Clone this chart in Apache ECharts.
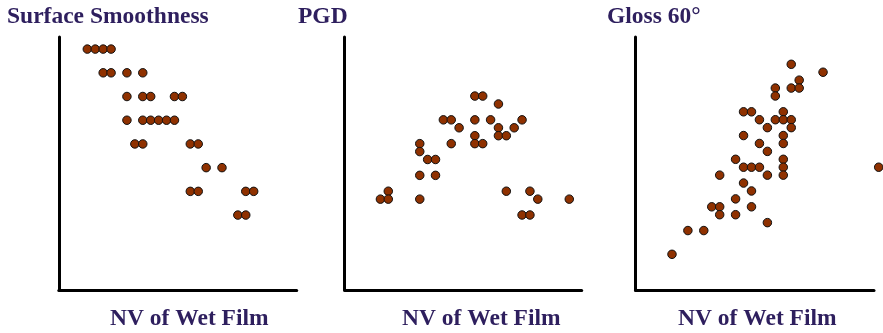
<!DOCTYPE html>
<html>
<head>
<meta charset="utf-8">
<script src="https://cdn.jsdelivr.net/npm/echarts@6/dist/echarts.min.js"></script>
<style>
    html, body { margin: 0; padding: 0; background: #fff; }
    #main { width: 883px; height: 333px; }
</style>
</head>
<body>
<div id="main"></div>
<script>
// Surface Smoothness
var smoothX = [3, 4, 5, 6, 5, 6, 8, 10, 8, 10, 11, 14, 15, 8, 10, 11, 12, 13, 14, 9, 10, 16, 17, 18, 20, 16, 17, 23, 24, 22, 23];
var smoothY = [10, 10, 10, 10, 9, 9, 9, 9, 8, 8, 8, 8, 8, 7, 7, 7, 7, 7, 7, 6, 6, 6, 6, 5, 5, 4, 4, 4, 4, 3, 3];

// PGD
var pgdX = [12, 13, 15, 8, 9, 12, 14, 18, 10, 15, 17, 12, 15, 16, 5, 9, 12, 13, 5, 6, 7, 5, 7, 1, 16, 19, 0, 1, 5, 20, 24, 18, 19];
var pgdY = [24, 24, 23, 21, 21, 21, 21, 21, 20, 20, 20, 19, 19, 19, 18, 18, 18, 18, 17, 16, 16, 14, 14, 12, 12, 12, 11, 11, 11, 11, 11, 9, 9];

// Gloss 60°
var glossX = [15, 19, 16, 13, 15, 16, 13, 9, 10, 14, 11, 13, 14, 15, 12, 15, 9, 14, 11, 14, 12, 8, 14, 9, 10, 11, 14, 26, 6, 12, 14, 9, 10, 8, 5, 6, 10, 6, 8, 12, 2, 4, 0];
var glossY = [28, 27, 26, 25, 25, 25, 24, 22, 22, 22, 21, 21, 21, 21, 20, 20, 19, 19, 18, 18, 17, 16, 16, 15, 15, 15, 15, 15, 14, 14, 14, 13, 12, 11, 10, 10, 10, 9, 9, 8, 7, 7, 4];

var titles = ['Surface Smoothness', 'PGD', 'Gloss 60°'];
var xName = 'NV of Wet Film';

var textColor = '#2e1f5e';
var dotColor = '#8f3100';
var font = 'bold 23.5px "Liberation Serif", "Times New Roman", serif';

function pairs(xs, ys) {
    var out = [];
    for (var i = 0; i < xs.length; i++) {
        out.push([xs[i], ys[i]]);
    }
    return out;
}

function axis(idx, min, max) {
    return {
        type: 'value',
        gridIndex: idx,
        min: min,
        max: max,
        axisLine: { show: true, onZero: false, lineStyle: { color: '#000', width: 3 } },
        axisTick: { show: false },
        axisLabel: { show: false },
        splitLine: { show: false }
    };
}

function dots(idx, data) {
    return {
        type: 'scatter',
        xAxisIndex: idx,
        yAxisIndex: idx,
        data: data,
        symbol: 'circle',
        symbolSize: 8.5,
        clip: false,
        itemStyle: { color: dotColor, borderColor: '#111', borderWidth: 1, opacity: 1 },
        emphasis: { disabled: true }
    };
}

function label(text, x, y) {
    return {
        type: 'text',
        left: x,
        top: y,
        style: { text: text, font: font, fill: textColor }
    };
}

var chart = echarts.init(document.getElementById('main'));

var option = {
    backgroundColor: '#fff',
    animation: false,
    grid: [
        { left: 58.8, top: 37, width: 237.9, height: 253 },
        { left: 344.7, top: 37, width: 237, height: 253 },
        { left: 635.5, top: 37, width: 238.5, height: 253 }
    ],
    xAxis: [
        axis(0, -0.6, 29.43),
        axis(1, -4.54, 25.58),
        axis(2, -4.59, 25.41)
    ],
    yAxis: [
        axis(0, -0.16, 10.51),
        axis(1, -0.46, 31.45),
        axis(2, -0.51, 31.45)
    ],
    series: [
        dots(0, pairs(smoothX, smoothY)),
        dots(1, pairs(pgdX, pgdY)),
        dots(2, pairs(glossX, glossY))
    ],
    graphic: [
        label(titles[0], 7, 5),
        label(titles[1], 298, 5),
        label(titles[2], 607, 5),
        label(xName, 110, 307),
        label(xName, 402, 307),
        label(xName, 678, 307)
    ]
};

chart.setOption(option);
</script>
</body>
</html>
